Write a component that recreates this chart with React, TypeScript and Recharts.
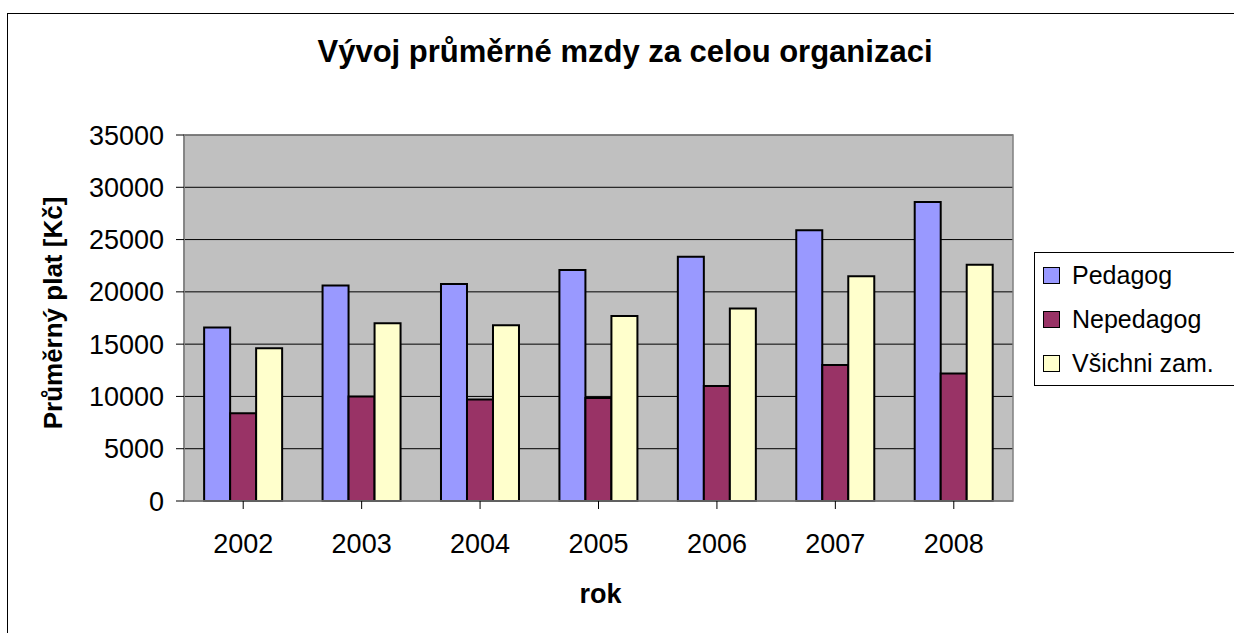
import React from 'react';
import {
  BarChart,
  Bar,
  XAxis,
  YAxis,
  CartesianGrid,
  Legend,
  ReferenceArea,
} from 'recharts';

const FONT = '"Liberation Sans", Arial, sans-serif';

// values
const years = ['2002', '2003', '2004', '2005', '2006', '2007', '2008'];
const pedagog = [16600, 20600, 20750, 22100, 23350, 25900, 28600];
const nepedagog = [8400, 10000, 9700, 9850, 11000, 13000, 12200];
const vsichni = [14600, 17000, 16800, 17700, 18400, 21500, 22600];
const yTicks = [0, 5000, 10000, 15000, 20000, 25000, 30000, 35000];

const series = [
  { key: 'pedagog', name: 'Pedagog', color: '#9999FF' },
  { key: 'nepedagog', name: 'Nepedagog', color: '#993366' },
  { key: 'vsichni', name: 'Všichni zam.', color: '#FFFFCC' },
];

const data = years.map((rok, i) => ({
  rok,
  pedagog: pedagog[i],
  nepedagog: nepedagog[i],
  vsichni: vsichni[i],
}));

function ChartLegend() {
  return (
    <div
      style={{
        border: '1px solid #000',
        borderRight: 'none',
        background: '#fff',
        width: 260,
        fontFamily: FONT,
        fontSize: 25,
        lineHeight: '44px',
        color: '#000',
      }}
    >
      {series.map((s) => (
        <div key={s.key} style={{ whiteSpace: 'nowrap', paddingLeft: 8 }}>
          <span
            style={{
              display: 'inline-block',
              width: 17,
              height: 17,
              boxSizing: 'border-box',
              border: '1px solid #000',
              background: s.color,
              marginRight: 12,
            }}
          />
          {s.name}
        </div>
      ))}
    </div>
  );
}

const yLabel = ({ viewBox }: any) => {
  const cx = viewBox.x + 48;
  const cy = viewBox.y + viewBox.height / 2 - 5;
  return (
    <text
      x={cx}
      y={cy}
      transform={`rotate(-90 ${cx} ${cy})`}
      textAnchor="middle"
      fontSize={26}
      fontWeight="bold"
      fontFamily={FONT}
      fill="#000"
    >
      Průměrný plat [Kč]
    </text>
  );
};

const xLabel = ({ viewBox }: any) => (
  <text
    x={viewBox.x + viewBox.width / 2 + 2}
    y={viewBox.y + 102}
    textAnchor="middle"
    fontSize={27}
    fontWeight="bold"
    fontFamily={FONT}
    fill="#000"
  >
    rok
  </text>
);

export default function App() {
  return (
    <div
      style={{
        position: 'absolute',
        left: 0,
        top: 0,
        width: 1234,
        height: 633,
        overflow: 'hidden',
        background: '#fff',
        fontFamily: FONT,
      }}
    >
      {/* chart frame, runs off the right and bottom edge like the original */}
      <div
        style={{
          position: 'absolute',
          left: 7,
          top: 13,
          width: 1260,
          height: 660,
          border: '1px solid #000',
        }}
      />
      <div
        style={{
          position: 'absolute',
          left: 0,
          top: 36,
          width: 1250,
          textAlign: 'center',
          fontSize: 31,
          lineHeight: '31px',
          fontWeight: 'bold',
          color: '#000',
        }}
      >
        Vývoj průměrné mzdy za celou organizaci
      </div>

      <div style={{ position: 'absolute', left: 0, top: 0 }}>
        <BarChart
          width={1234}
          height={633}
          data={data}
          margin={{ top: 135, right: 221, bottom: 22, left: 14 }}
          barCategoryGap="17%"
          barGap={0}
        >
          <CartesianGrid
            vertical={false}
            stroke="#000"
            fill="#C0C0C0"
            fillOpacity={1}
          />
          <ReferenceArea
            y1={0}
            y2={35000}
            fill="none"
            stroke="#808080"
            strokeWidth={1.5}
          />
          <XAxis
            dataKey="rok"
            height={110}
            axisLine={{ stroke: '#808080', strokeWidth: 1.5 }}
            tickLine={{ stroke: '#000' }}
            tickSize={8}
            tickMargin={25}
            tick={{ fill: '#000', fontSize: 27, fontFamily: FONT }}
            label={{ content: xLabel }}
          />
          <YAxis
            width={170}
            domain={[0, 35000]}
            ticks={yTicks}
            interval={0}
            axisLine={{ stroke: '#808080', strokeWidth: 1.5 }}
            tickLine={{ stroke: '#000' }}
            tickSize={8}
            tickMargin={12}
            tick={{ fill: '#000', fontSize: 27, fontFamily: FONT }}
            label={{ content: yLabel }}
          />
          <Legend
            layout="vertical"
            align="center"
            verticalAlign="middle"
            wrapperStyle={{ left: 1034, top: 252, width: 260, overflow: 'visible' }}
            content={() => <ChartLegend />}
          />
          {series.map((s) => (
            <Bar
              key={s.key}
              dataKey={s.key}
              name={s.name}
              fill={s.color}
              stroke="#000"
              strokeWidth={2}
              isAnimationActive={false}
            />
          ))}
        </BarChart>
      </div>
    </div>
  );
}
